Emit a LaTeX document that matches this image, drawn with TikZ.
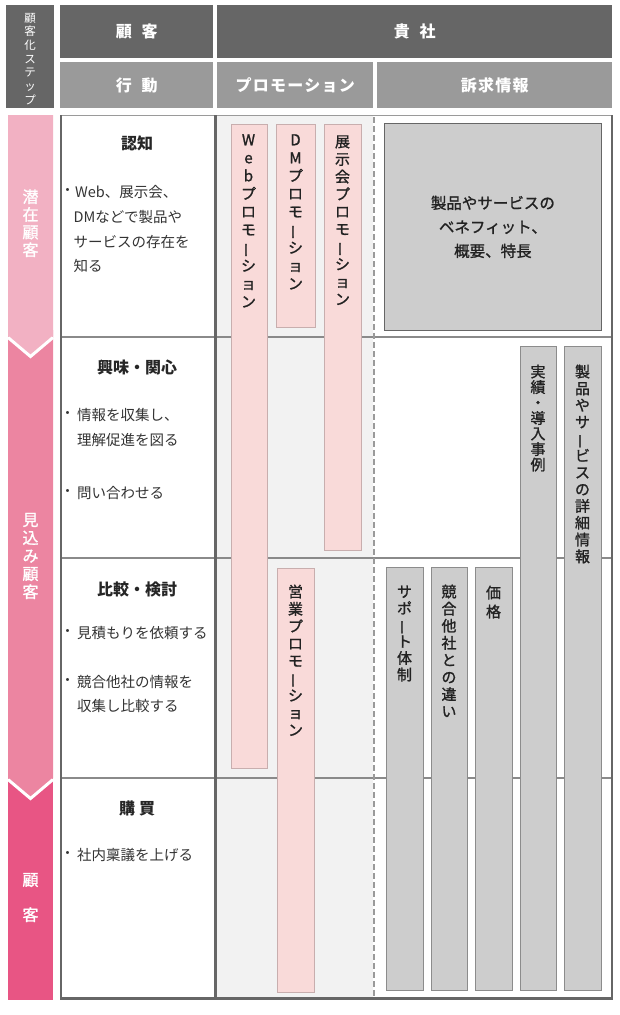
\documentclass[tikz,border=0pt]{standalone}
\usepackage{fontspec}
\usepackage{graphicx}
\setmainfont{Noto Sans CJK JP}
\newfontfamily\jpm[FakeBold=1.2]{Noto Sans CJK JP}
\definecolor{dk}{HTML}{666666}
\definecolor{md}{HTML}{9A9A9A}
\definecolor{rowline}{HTML}{8A8A8A}
\definecolor{pkA}{HTML}{F2B1C3}
\definecolor{pkB}{HTML}{EC85A1}
\definecolor{pkC}{HTML}{E85584}
\definecolor{promobg}{HTML}{F2F2F2}
\definecolor{pinkfill}{HTML}{F9DAD9}
\definecolor{pinkline}{HTML}{C8AEAE}
\definecolor{grayfill}{HTML}{CDCDCD}
\definecolor{grayline}{HTML}{8C8C8C}
\definecolor{txt}{HTML}{333333}
\definecolor{vtx}{HTML}{222222}
\newcommand{\VL}{\rotatebox[origin=c]{90}{ー}}
\newcommand{\vstack}[6]{%
  \foreach \c [count=\i] in {#6} {%
    \node[#5] (#1-\i) at (#2, {#3+(\i-1)*#4}) {\c};
  }%
}
\tikzset{
  hboxA/.style={fill=dk, text=white, inner sep=0pt, anchor=north west,
    font=\bfseries\fontsize{16}{19}\selectfont\addfontfeature{LetterSpace=8}},
  hboxB/.style={hboxA, fill=md},
  pinkbar/.style={draw=pinkline, fill=pinkfill, line width=0.8pt, inner sep=0pt, anchor=north west},
  graybar/.style={draw=grayline, fill=grayfill, line width=0.8pt, inner sep=0pt, anchor=north west},
  vchar/.style={inner sep=0pt, text height=12.5pt, text depth=2pt, text=vtx,
    font=\jpm\fontsize{15}{17}\selectfont},
  wchar/.style={inner sep=0pt, text height=9.5pt, text depth=1.5pt, text=white,
    font=\fontsize{11.5}{13}\selectfont},
  lchar/.style={inner sep=0pt, text height=13.5pt, text depth=2pt, text=white,
    font=\jpm\fontsize{16}{18}\selectfont},
  title/.style={inner sep=0pt, text=black!85, font=\bfseries\fontsize{16}{19}\selectfont},
  body/.style={inner sep=0pt, anchor=west, text=txt, font=\fontsize{14.5}{17}\selectfont},
  bullet/.style={inner sep=0pt, text=txt, font=\fontsize{14.5}{17}\selectfont},
  boxtxt/.style={inner sep=0pt, text=vtx, align=center, font=\jpm\fontsize{15.5}{24}\selectfont}
}
\begin{document}
\begin{tikzpicture}[x=1pt,y=-1pt]
\useasboundingbox (0,0) rectangle (620,1015);
% header
\node[hboxA, minimum width=48pt, minimum height=103pt] (step) at (6,5) {};
\vstack{st}{30}{18}{13.7}{wchar}{顧,客,化,ス,テ,ッ,プ}
\node[hboxA, minimum width=153pt, minimum height=53pt] (kokyaku) at (60,5) {顧\hspace{0.6em}客};
\node[hboxA, minimum width=395pt, minimum height=53pt] (kisha) at (217,5) {貴\hspace{0.6em}社};
\node[hboxB, minimum width=153pt, minimum height=46pt] (kodo) at (60,62) {行\hspace{0.6em}動};
\node[hboxB, minimum width=156pt, minimum height=46pt] (promo) at (217,62) {プロモーション};
\node[hboxB, minimum width=235pt, minimum height=46pt] (sokyu) at (377,62) {訴求情報};
% left arrow column
\fill[pkC] (8,770) -- (53,770) -- (53,1000) -- (8,1000) -- cycle;
\fill[pkB] (8,330) -- (53,330) -- (53,778) -- (30.5,797) -- (8,778) -- cycle;
\draw[white, line width=3pt] (8,779.5) -- (30.5,798.5) -- (53,779.5);
\fill[pkA] (8,115) -- (53,115) -- (53,336) -- (30.5,355) -- (8,336) -- cycle;
\draw[white, line width=3pt] (8,337.5) -- (30.5,356.5) -- (53,337.5);
\vstack{sen}{30.5}{197}{17.7}{lchar}{潜,在,顧,客}
\vstack{mik}{30.5}{520}{18}{lchar}{見,込,み,顧,客}
\vstack{kok}{30.5}{880}{35}{lchar}{顧,客}
% table background and lines
\fill[promobg] (217,116) rectangle (373,998);
\draw[rowline, line width=1.3pt] (60,337) -- (612,337);
\draw[rowline, line width=1.3pt] (60,558) -- (612,558);
\draw[rowline, line width=1.3pt] (60,778) -- (612,778);
\draw[md, line width=1.5pt] (60,115.7) -- (612,115.7);
\draw[md, line width=1.2pt, dash pattern=on 6pt off 3pt] (374,117) -- (374,997);
\draw[dk, line width=2pt] (61,115) -- (61,1000);
\draw[dk, line width=3pt] (215,115) -- (215,1000);
\draw[dk, line width=2pt] (611.5,115) -- (611.5,1000);
\draw[dk, line width=3pt] (60,998.5) -- (613,998.5);
% action column
\node[title] (t1) at (137,143) {認知};
\node[bullet] (b1) at (67.5,192) {・};
\node[body] (l11) at (75,192) {Web、展示会、};
\node[body] (l12) at (73.5,217) {DMなどで製品や};
\node[body] (l13) at (73.5,242) {サービスの存在を};
\node[body] (l14) at (73.5,266) {知る};
\node[title] (t2) at (137,367) {興味・関心};
\node[bullet] (b2) at (67.5,415) {・};
\node[body] (l21) at (77,415) {情報を収集し、};
\node[body] (l22) at (77,440) {理解促進を図る};
\node[bullet] (b3) at (67.5,493) {・};
\node[body] (l23) at (77,493) {問い合わせる};
\node[title] (t3) at (137,589) {比較・検討};
\node[bullet] (b4) at (67.5,633) {・};
\node[body] (l31) at (77,633) {見積もりを依頼する};
\node[bullet] (b5) at (67.5,682) {・};
\node[body] (l32) at (77,682) {競合他社の情報を};
\node[body] (l33) at (77,706) {収集し比較する};
\node[title] (t4) at (137,808) {購\hspace{0.25em}買};
\node[bullet] (b6) at (67.5,855) {・};
\node[body] (l41) at (77,855) {社内稟議を上げる};
% promotion bars
\node[pinkbar, minimum width=36pt, minimum height=644.5pt] (web) at (230.5,123.5) {};
\node[pinkbar, minimum width=39pt, minimum height=203.5pt] (dm) at (276,123.5) {};
\node[pinkbar, minimum width=37pt, minimum height=426.5pt] (tenji) at (324,123.5) {};
\node[pinkbar, minimum width=37pt, minimum height=424pt] (eigyo) at (277,568) {};
\vstack{webt}{248.5}{140}{18}{vchar}{W,e,b,プ,ロ,モ,\VL,シ,ョ,ン}
\vstack{dmt}{295.5}{140}{18}{vchar}{D,M,プ,ロ,モ,\VL,シ,ョ,ン}
\vstack{tent}{342.5}{142}{17.5}{vchar}{展,示,会,プ,ロ,モ,\VL,シ,ョ,ン}
\vstack{eigt}{295.5}{592}{17.3}{vchar}{営,業,プ,ロ,モ,\VL,シ,ョ,ン}
% appeal column
\node[graybar, draw=dk, minimum width=217pt, minimum height=207pt] (bigbox) at (384,123) {};
\node[boxtxt] (bigtxt) at (bigbox.center) {製品やサービスの\\ベネフィット、\\概要、特長};
\node[graybar, minimum width=36pt, minimum height=644pt] (jis) at (520,346) {};
\node[graybar, minimum width=37pt, minimum height=644pt] (sho) at (564,346) {};
\node[graybar, minimum width=37pt, minimum height=423pt] (sup) at (386,567) {};
\node[graybar, minimum width=36pt, minimum height=423pt] (kyo) at (431,567) {};
\node[graybar, minimum width=37pt, minimum height=423pt] (kak) at (475,567) {};
\vstack{jist}{538}{372}{15.5}{vchar}{実,績,・,導,入,事,例}
\vstack{shot}{582.5}{372}{16.8}{vchar}{製,品,や,サ,\VL,ビ,ス,の,詳,細,情,報}
\vstack{supt}{404.5}{592}{16.6}{vchar}{サ,ポ,\VL,ト,体,制}
\vstack{kyot}{449}{592}{17.1}{vchar}{競,合,他,社,と,の,違,い}
\vstack{kakt}{493.5}{593}{19}{vchar}{価,格}
\end{tikzpicture}
\end{document}
